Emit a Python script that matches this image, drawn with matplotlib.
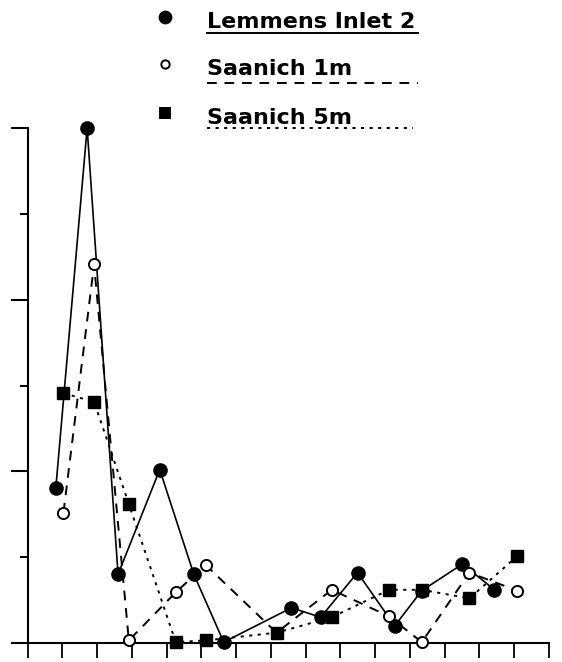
import matplotlib
matplotlib.use('Agg')
import matplotlib.pyplot as plt
from matplotlib.lines import Line2D
import numpy as np

# values (x and y in tick units, no labels on the original)
x_lemmens = [0.81, 1.71, 2.60, 3.80, 4.78, 5.64, 7.59, 8.43, 9.49, 10.56, 11.34, 12.51, 13.43]
y_lemmens = [1.81, 6.00, 0.80, 2.02, 0.80, 0.01, 0.41, 0.30, 0.82, 0.20, 0.61, 0.92, 0.62]

x_saanich = [1.03, 1.91, 2.91, 4.26, 5.12, 7.16, 8.75, 10.40, 11.34, 12.71, 14.08]
y_saanich1 = [1.52, 4.41, 0.03, 0.59, 0.91, 0.12, 0.62, 0.31, 0.01, 0.82, 0.61]
y_saanich5 = [2.91, 2.81, 1.62, 0.01, 0.03, 0.12, 0.30, 0.62, 0.62, 0.52, 1.01]

labels = ['Lemmens Inlet 2', 'Saanich 1m', 'Saanich 5m']

fig = plt.figure(figsize=(5.62, 6.62), dpi=100)
ax = fig.add_axes([27.7/562, 19/662, (549-27.7)/562, (643-128)/662])

# series
ax.plot(x_lemmens, y_lemmens, '-', color='k', lw=1.2, marker='o', ms=9.5,
        mfc='k', mec='k', clip_on=False, zorder=3)
ax.plot(x_saanich, y_saanich1, color='k', lw=1.4, ls=(0, (5, 4)), marker='o', ms=8,
        mfc='white', mec='k', mew=1.4, clip_on=False, zorder=4)
ax.plot(x_saanich, y_saanich5, color='k', lw=1.4, ls=(0, (1.6, 2.8)), marker='s', ms=9,
        mfc='k', mec='k', clip_on=False, zorder=5)

ax.set_xlim(0, 15)
ax.set_ylim(0, 6)
ax.spines['top'].set_visible(False)
ax.spines['right'].set_visible(False)
ax.spines['left'].set_linewidth(1.5)
ax.spines['bottom'].set_linewidth(1.5)

ax.set_xticks(np.arange(0, 16))
ax.set_yticks([0, 2, 4, 6])
ax.set_yticks([1, 3, 5], minor=True)
ax.tick_params(axis='x', direction='out', length=11, width=1.3, labelbottom=False)
ax.tick_params(axis='y', which='major', direction='out', length=12, width=1.5, labelleft=False)
ax.tick_params(axis='y', which='minor', direction='out', length=6, width=1.5)

# legend drawn by hand: marker, label, underline in the series' line style
leg_rows = [
    dict(y=17, ty=28, uy=33, ux1=418, marker='o', ms=8.5, mfc='k', ls='-'),
    dict(y=64, ty=75, uy=83, ux1=418, marker='o', ms=6, mfc='white', ls=(0, (5, 4))),
    dict(y=113, ty=124, uy=128, ux1=413, marker='s', ms=6.5, mfc='k', ls=(0, (1.6, 2.8))),
]
for lab, r in zip(labels, leg_rows):
    fig.add_artist(Line2D([165/562], [1 - r['y']/662], marker=r['marker'], ms=r['ms'],
                          mfc=r['mfc'], mec='k', mew=1.4, ls='none'))
    fig.text(207/562, 1 - r['ty']/662, lab, fontsize=16, fontweight='bold',
             family='DejaVu Sans', ha='left', va='baseline')
    fig.add_artist(Line2D([207/562, r['ux1']/562], [1 - r['uy']/662]*2,
                          color='k', lw=1.4, ls=r['ls']))

fig.savefig('out.png', dpi=100)
